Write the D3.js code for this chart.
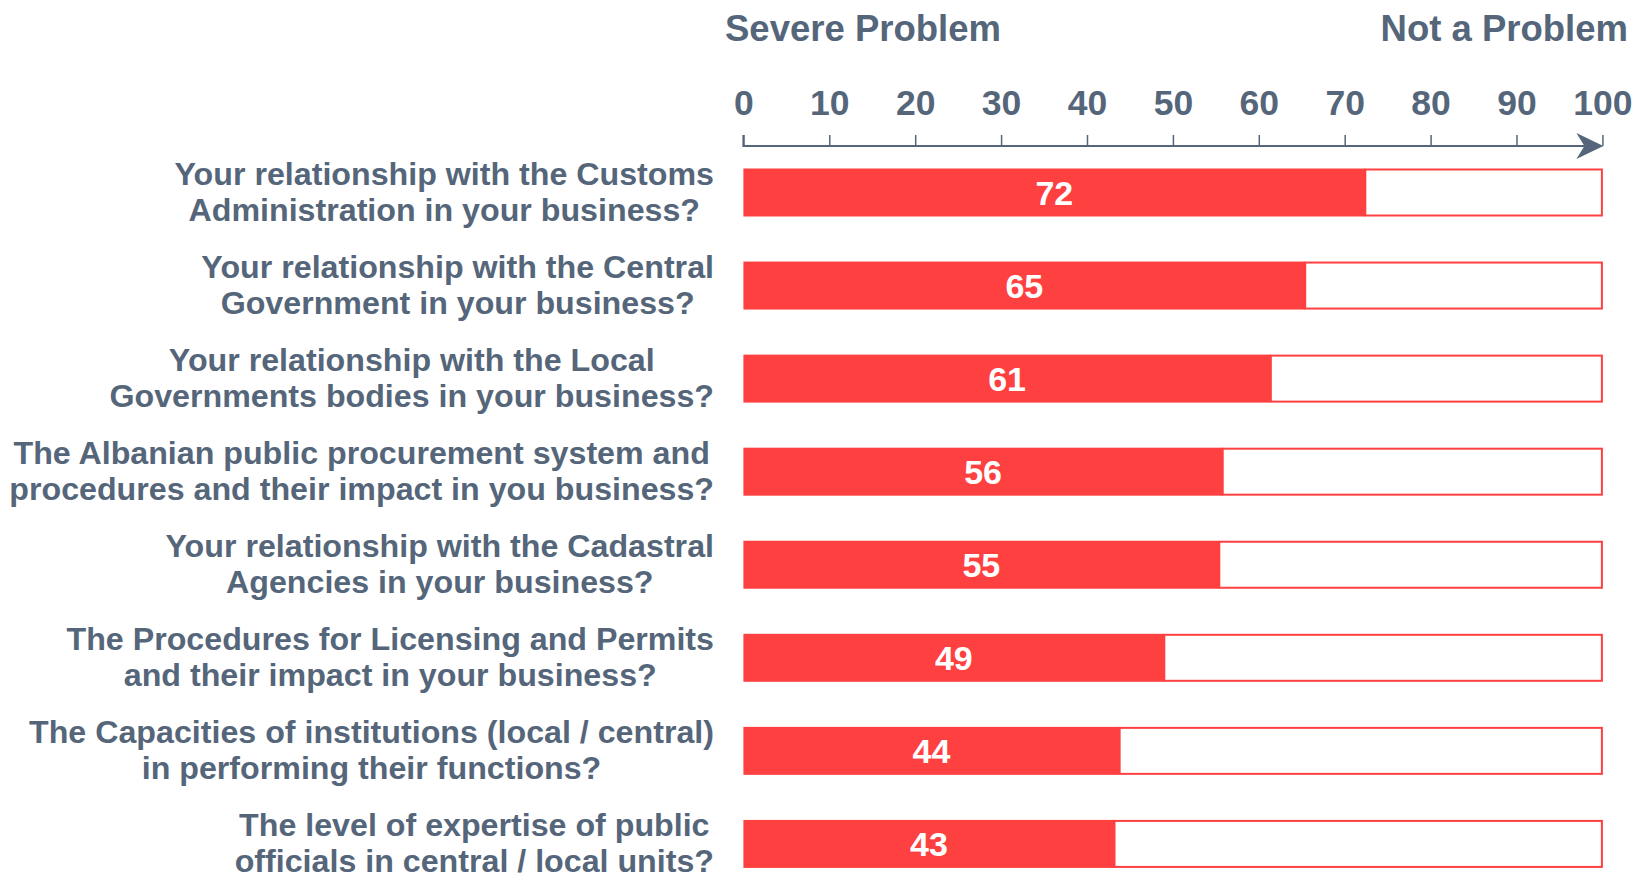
<!DOCTYPE html>
<html>
<head>
<meta charset="utf-8">
<script src="https://cdn.jsdelivr.net/npm/d3@7"></script>
<style>
  html, body { margin: 0; padding: 0; background: #fff; }
  svg { display: block; }
  text { font-family: "Liberation Sans", Arial, sans-serif; font-weight: bold; }
</style>
</head>
<body>
<svg id="chart" width="1637" height="875"></svg>
<script>
// ---- data ----
const categories = [
  ["Your relationship with the Customs", "Administration in your business?"],
  ["Your relationship with the Central", "Government in your business?"],
  ["Your relationship with the Local", "Governments bodies in your business?"],
  ["The Albanian public procurement system and", "procedures and their impact in you business?"],
  ["Your relationship with the Cadastral", "Agencies in your business?"],
  ["The Procedures for Licensing and Permits", "and their impact in your business?"],
  ["The Capacities of institutions (local / central)", "in performing their functions?"],
  ["The level of expertise of public", "officials in central / local units?"]
];
const values = [72.4, 65.4, 61.4, 55.8, 55.4, 49.0, 43.8, 43.2];
const tickValues = [0, 10, 20, 30, 40, 50, 60, 70, 80, 90, 100];
const leftHeader = "Severe Problem";
const rightHeader = "Not a Problem";

// ---- styles ----
const textColor = "#55667A";
const red = "#FF4040";

const svg = d3.select("#chart");

const x = d3.scaleLinear().domain([0, 100]).range([743.4, 1602.4]);
const step = 93.06;
const y = d3.scaleBand()
  .domain(d3.range(categories.length))
  .range([168.5 - (step - 48) / 2, 168.5 - (step - 48) / 2 + step * categories.length])
  .paddingInner(1 - 48 / step)
  .paddingOuter((1 - 48 / step) / 2);

// headers
svg.append("text").attr("x", 725).attr("y", 40.5)
  .attr("font-size", 36.5).attr("fill", textColor).text(leftHeader);
svg.append("text").attr("x", 1628).attr("y", 40.5).attr("text-anchor", "end")
  .attr("font-size", 36.5).attr("fill", textColor).text(rightHeader);

// axis
const axisY = 146;
const axis = d3.axisTop(x).tickValues(tickValues).tickSize(11).tickPadding(20).tickFormat(d3.format("d"));
const gAxis = svg.append("g").attr("transform", `translate(0,${axisY})`).call(axis);
gAxis.select(".domain").attr("stroke", textColor).attr("stroke-width", 2).attr("d", `M${x(0)},-11V0H${x(100) - 8}`);
gAxis.selectAll(".tick line").attr("stroke", textColor).attr("stroke-width", 1.5);
gAxis.selectAll(".tick text").attr("fill", textColor).attr("font-size", 35.5)
  .attr("font-family", "Liberation Sans, Arial, sans-serif").attr("font-weight", "bold");
// arrowhead
const tipX = x(100) + 1;
svg.append("path")
  .attr("d", `M${tipX},${axisY} L${tipX - 27},${axisY - 13} L${tipX - 19},${axisY} L${tipX - 27},${axisY + 13} Z`)
  .attr("fill", textColor);

// rows
const rows = svg.append("g").selectAll("g").data(values).join("g");

// remainder (outline)
rows.append("rect")
  .attr("x", d => x(d))
  .attr("y", (d, i) => y(i) + 1)
  .attr("width", d => x(100) - x(d) - 0.5)
  .attr("height", y.bandwidth() - 2)
  .attr("fill", "#fff")
  .attr("stroke", red).attr("stroke-width", 2);

// bars
rows.append("rect")
  .attr("x", x(0))
  .attr("y", (d, i) => y(i))
  .attr("width", d => x(d) - x(0))
  .attr("height", y.bandwidth())
  .attr("fill", red);

// value labels
rows.append("text")
  .attr("x", d => (x(0) + x(d)) / 2)
  .attr("y", (d, i) => y(i) + y.bandwidth() / 2 + 12.5)
  .attr("text-anchor", "middle")
  .attr("font-size", 34).attr("fill", "#fff")
  .text(d => d3.format(".0f")(d));

// category labels (centered block, right-aligned to x=714)
const labelRight = 714;
categories.forEach((lines, i) => {
  const g = svg.append("g");
  const cy = y(i) + y.bandwidth() / 2;
  const texts = lines.map((ln, j) => g.append("text")
    .attr("y", cy - 8 + j * 36.5)
    .attr("text-anchor", "middle")
    .attr("font-size", 32.2).attr("fill", textColor)
    .text(ln));
  const maxW = d3.max(texts, t => t.node().getComputedTextLength());
  texts.forEach(t => t.attr("x", labelRight - maxW / 2));
});
</script>
</body>
</html>
